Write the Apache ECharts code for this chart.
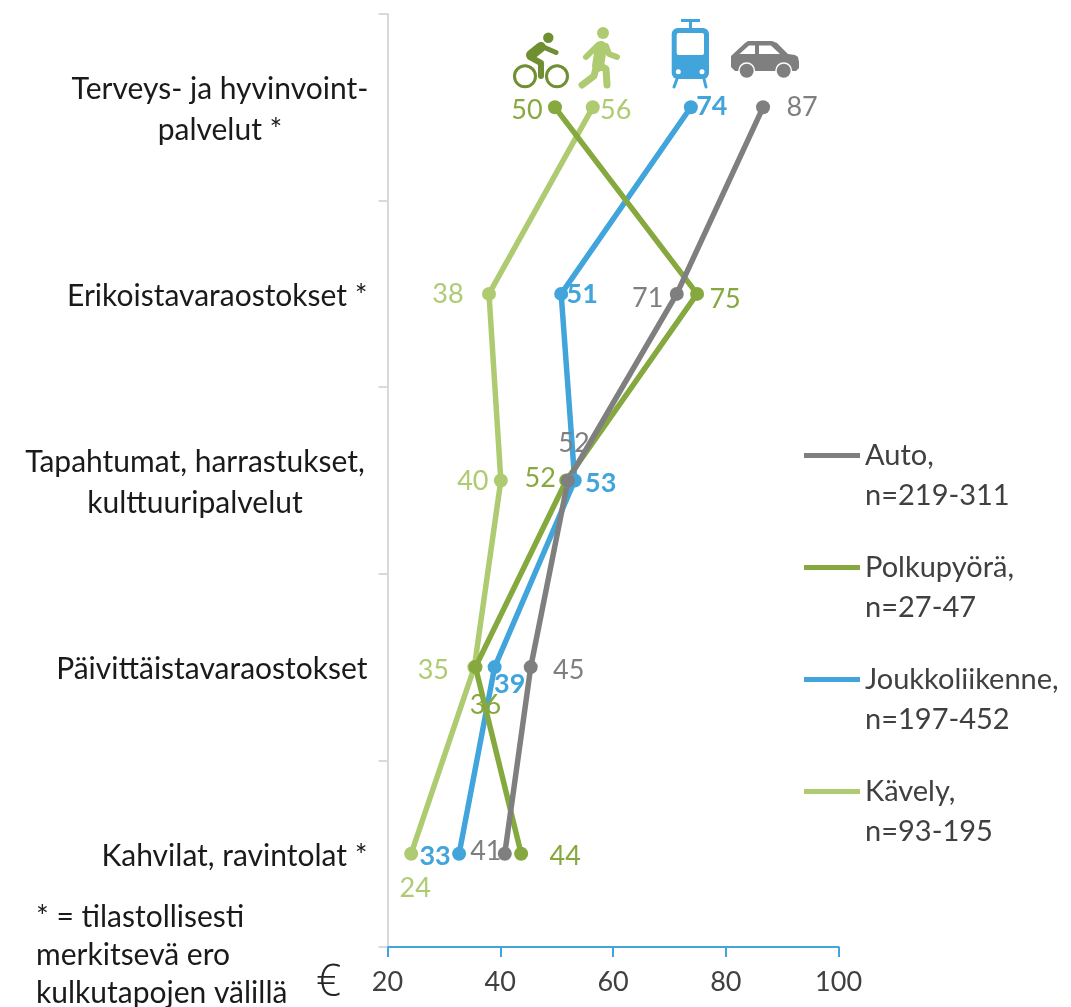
<!DOCTYPE html>
<html><head><meta charset="utf-8">
<style>html,body{margin:0;padding:0;background:#fff}#c{width:1071px;height:1007px}</style>
<script src="https://cdn.jsdelivr.net/npm/echarts@6/dist/echarts.min.js"></script>
</head><body><div id="c"></div>
<script>
const categories = ['Terveys- ja hyvinvoint-\npalvelut *','Erikoistavaraostokset *','Tapahtumat, harrastukset,\nkulttuuripalvelut','Päivittäistavaraostokset','Kahvilat, ravintolat *'];
const xTicks = [20,40,60,80,100];
const autoValues = [86.6,71.3,52.0,45.4,40.8];
const bikeValues = [49.7,74.9,51.7,35.6,43.7];
const transitValues = [73.8,50.8,53.2,39.0,32.7];
const walkValues = [56.4,38.0,40.1,35.4,24.2];
const seriesNames = ['Auto,\nn=219-311','Polkupyörä,\nn=27-47','Joukkoliikenne,\nn=197-452','Kävely,\nn=93-195'];
const noteLines = '* = tilastollisesti\nmerkitsevä ero\nkulkutapojen välillä';

const FONT = 'Lato';
const colors = ['#7f7f7f','#86a93f','#41a5dc','#afcb72'];
const offsets = [
  [[39,0],[-29,4],[6,-37],[38,3],[-19,-2]],
  [[-28,3],[28,5],[-26,-2],[10,38],[44,3]],
  [[21,-1],[21,0],[26,3],[15,17],[-24,3]],
  [[23,3],[-41,0],[-28,1],[-41,3],[4,35]]
];
const allValues = [autoValues,bikeValues,transitValues,walkValues];
const chart = echarts.init(document.getElementById('c'),null,{renderer:'canvas'});

const drawOrder = [3,2,1,0];
const series = drawOrder.map(s => ({
  name: seriesNames[s], type:'line', symbol:'circle', symbolSize:14, animation:false,
  lineStyle:{color:colors[s],width:5.5,cap:'round'}, itemStyle:{color:colors[s]},
  data: allValues[s].map((v,i)=>({
    value:[v,categories[i]],
    label:{show:true,position:'inside',offset:offsets[s][i],
      formatter:()=>String(Math.round(v)),
      color:colors[s],fontFamily:FONT,fontSize:27,fontWeight:s===2?'bold':'normal'}
  }))
}));

const ln = (pts,w,col,extra)=>({type:'polyline',shape:{points:pts},style:Object.assign({stroke:col,lineWidth:w,fill:null,lineCap:'round',lineJoin:'round'},extra||{})});
const circ = (cx,cy,r,style)=>({type:'circle',shape:{cx,cy,r},style});
const G='#6f8f32',W='#afcb72',T='#41a5dc',C='#7f7f7f';
const icons = [
  circ(548.3,37.7,5.2,{fill:G}),
  circ(525,76.3,10.5,{fill:null,stroke:G,lineWidth:3}),
  circ(557,76.3,10.5,{fill:null,stroke:G,lineWidth:3}),
  ln([[531,55],[541,47]],10,G),
  ln([[541,46],[556,52.5]],5,G),
  ln([[530,57],[541,63],[541,76]],6,G),
  circ(603,33,6,{fill:W}),
  ln([[601,47],[598,66]],12,W),
  ln([[598,45],[586,57]],6,W),
  ln([[606,46],[609,54],[617,57]],6,W),
  ln([[596,68],[594,76],[582,85]],7,W),
  ln([[600,66],[606,69],[607,85]],7,W),
  {type:'rect',shape:{x:681,y:19,width:19,height:3},style:{fill:T}},
  {type:'rect',shape:{x:689,y:20,width:3,height:12},style:{fill:T}},
  {type:'rect',shape:{x:671.7,y:28,width:37.3,height:51,r:6},style:{fill:T}},
  {type:'rect',shape:{x:676.7,y:33,width:27.3,height:22,r:2},style:{fill:'#fff'}},
  circ(678.3,71.7,2.5,{fill:'#fff'}),
  circ(702,71.7,2.5,{fill:'#fff'}),
  ln([[677,79],[674,87]],3,T),
  ln([[704,79],[706,87]],3,T),
  {type:'polygon',shape:{points:[[731,60],[731,56],[745,43],[748,41],[772,41],[777,43],[788,54],[795,55],[798,57],[799,62],[799,68],[796,71],[735,71],[731,67]]},style:{fill:C}},
  {type:'polygon',shape:{points:[[739.5,54],[749,45.5],[755,45.5],[755,54]]},style:{fill:'#fff'}},
  {type:'polygon',shape:{points:[[759,45.5],[771,45.5],[780,54],[759,54]]},style:{fill:'#fff'}},
  circ(746.7,70.7,8.5,{fill:'#fff'}),circ(746.7,70.7,7,{fill:C}),
  circ(783.7,70.7,8.5,{fill:'#fff'}),circ(783.7,70.7,7,{fill:C})
];

chart.setOption({
  animation:false,
  grid:{left:387.5,right:232.4,top:14,bottom:60,containLabel:false},
  xAxis:{type:'value',min:20,max:100,interval:20,position:'bottom',
    axisLine:{show:true,onZero:false,lineStyle:{color:'#41a5dc',width:2}},
    axisTick:{show:true,length:10,lineStyle:{color:'#41a5dc',width:2}},
    axisLabel:{color:'#404040',fontFamily:FONT,fontSize:27,margin:22,formatter:v=>xTicks.includes(v)?String(v):''},
    splitLine:{show:false}},
  yAxis:{type:'category',inverse:true,data:categories,
    axisLine:{show:true,lineStyle:{color:'#d9d9d9',width:2}},
    axisTick:{show:true,length:9,inside:false,lineStyle:{color:'#d9d9d9',width:2}},
    axisLabel:{margin:20,color:'#1a1a1a',fontFamily:FONT,fontSize:30,lineHeight:41,align:'right',padding:[5,0,0,0],
      formatter:v=>{const p=v.split('\n');if(p.length===1)return p[0];
        const k=p[0].startsWith('Terveys')?'a':'b';return p.map(x=>`{${k}|${x}}`).join('\n');},
      rich:{a:{width:295,align:'center',fontFamily:FONT,fontSize:30,lineHeight:41,color:'#1a1a1a'},
            b:{width:345,align:'center',fontFamily:FONT,fontSize:30,lineHeight:41,color:'#1a1a1a'}}},
    splitLine:{show:false}},
  legend:{show:true,orient:'vertical',left:804,top:436,padding:0,itemGap:32,itemWidth:56,itemHeight:80,
    data:seriesNames,selectedMode:false,
    icon:'path://M0 17H56V22H0Z M0 0L0 0 M0 80L0 80',
    textStyle:{color:'#404040',fontFamily:FONT,fontSize:29,lineHeight:40},
    itemStyle:{opacity:1}},
  series,
  graphic:[
    {type:'text',left:36,top:898,style:{text:noteLines,fill:'#1a1a1a',font:'30px '+FONT,lineHeight:38}},
    {type:'text',left:316,top:961,style:{text:'€',fill:'#262626',font:'300 44px "Open Sans"'}},
    {type:'group',children:icons.map(o=>Object.assign({silent:true},o))}
  ]
});
</script></body></html>
